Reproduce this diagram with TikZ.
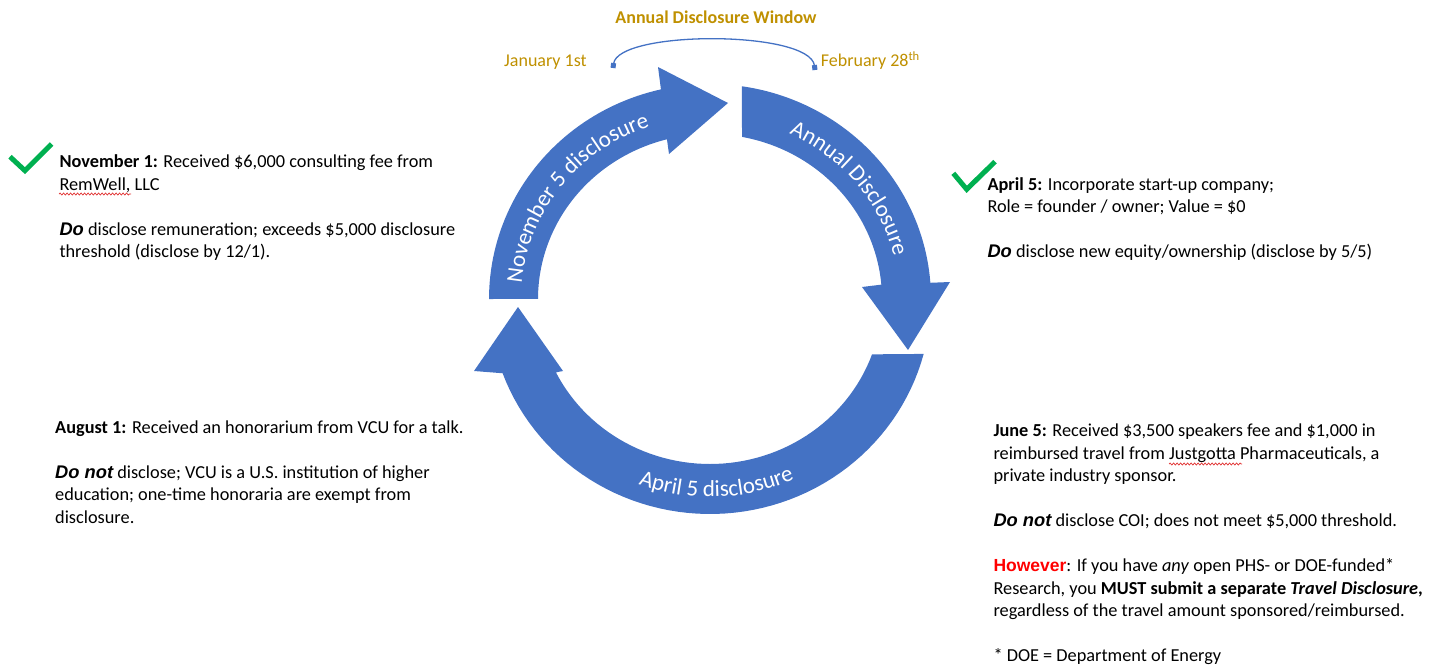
\documentclass[tikz,border=0pt]{standalone}
\usepackage{fontspec}
\setmainfont{Carlito}
\newfontfamily\arialfont{Liberation Sans}
\usetikzlibrary{decorations.text,decorations.pathmorphing,arrows.meta}

\definecolor{cycleblue}{HTML}{4472C4}
\definecolor{windowgold}{HTML}{BF9000}
\definecolor{checkgreen}{HTML}{00B050}
\definecolor{alertred}{HTML}{FF0000}
\definecolor{squiggle}{HTML}{E03030}

% emphasised verdicts ("Do", "Do not")
\newcommand{\verdict}{\arialfont\bfseries\itshape}
% white labels that run along the cycle arrows
\newcommand{\arrowlabel}{\color{white}\fontsize{23}{23}\selectfont}
% a block of left-aligned lines whose reference point is the first baseline
\newcommand{\textblock}[1]{\vtop{\baselineskip=22.5pt\lineskiplimit=-20pt #1}}
\newcommand{\tline}[1]{\hbox{\strut #1}}

\begin{document}
\begin{tikzpicture}[x=1pt,y=-1pt,
  body/.style={anchor=base west, inner sep=0pt, font=\fontsize{18.3}{22.5}\selectfont},
  goldtext/.style={text=windowgold, inner sep=0pt, font=\fontsize{18}{22}\selectfont},
  cyclearrow/.style={fill=cycleblue},
  checkstroke/.style={draw=checkgreen, line width=5pt, line join=miter},
  spellmark/.style={draw=squiggle, line width=0.7pt, decorate,
    decoration={snake, amplitude=1pt, segment length=3.5pt}}
]
\useasboundingbox (0,0) rectangle (1439,667);

% ---------- cycle of three curved arrows ----------
% November 5 disclosure (left, pointing up to the top)
\fill[cyclearrow]
  plot[domain=0:1, samples=50, variable=\s]
    ({710+221*cos(180+77.2*\s)},{299+215*sin(180+77.2*\s)})
  -- (658,67) -- (728,103) -- (669,154)
  -- plot[domain=0:1, samples=50, variable=\s]
    ({710+172*cos(255.5-75.5*\s)},{299+165*sin(255.5-75.5*\s)})
  -- cycle;

% Annual Disclosure (right, pointing down)
\fill[cyclearrow]
  plot[domain=0:1, samples=50, variable=\s]
    ({710+221*cos(278.3+77.4*\s)},{299+215*sin(278.3+77.4*\s)})
  -- (950,282) -- (908,350) -- (862,287)
  -- plot[domain=0:1, samples=50, variable=\s]
    ({710+172*cos(355-74.3*\s)},{299+165*sin(355-74.3*\s)})
  -- cycle;

% April 5 disclosure (bottom, pointing up on the left)
\fill[cyclearrow]
  plot[domain=0:1, samples=60, variable=\s]
    ({710+221*cos(14.8+145.1*\s)},{299+215*sin(14.8+145.1*\s)})
  -- (474,371) -- (518,307) -- (563,371)
  -- plot[domain=0:1, samples=60, variable=\s]
    ({710+172*cos(153.6-134.1*\s)},{299+165*sin(153.6-134.1*\s)})
  -- cycle;

% labels along the arrows
\path[decorate, decoration={text along path, text align=center,
    text={|\arrowlabel|November 5 disclosure}}]
  plot[domain=0:1, samples=80, variable=\s]
    ({710+189*cos(173+90*\s)},{299+182*sin(173+90*\s)});
\path[decorate, decoration={text along path, text align=center,
    text={|\arrowlabel|Annual Disclosure}}]
  plot[domain=0:1, samples=80, variable=\s]
    ({710+189*cos(276+90*\s)},{299+182*sin(276+90*\s)});
\path[decorate, decoration={text along path, text align=center,
    text={|\arrowlabel|April 5 disclosure}}]
  plot[domain=0:1, samples=80, variable=\s]
    ({710+204*cos(133-90*\s)},{299+198*sin(133-90*\s)});

% ---------- annual disclosure window ----------
\node[goldtext, font=\bfseries\fontsize{18}{22}\selectfont, anchor=base] (wintitle) at (716,23.3) {Annual Disclosure Window};
\node[goldtext, anchor=base west] (jan) at (504,66.7) {January 1st};
\node[goldtext, anchor=base west] (feb) at (820.7,66.7) {February 28\textsuperscript{th}};
\coordinate (winstart) at (613,68);
\coordinate (winend) at (815,70);
\draw[cycleblue, line width=1.3pt, {Square[length=5pt,width=5pt]}-{Square[length=5pt,width=5pt]}]
  (winstart) .. controls (618,30) and (810,30) .. (winend);

% ---------- check marks ----------
\coordinate (ckNa) at (10,156.7);
\coordinate (ckNb) at (25,170.7);
\coordinate (ckNc) at (51.7,144);
\draw[checkstroke] (ckNa) -- (ckNb) -- (ckNc);
\coordinate (ckAa) at (953.3,173.3);
\coordinate (ckAb) at (966.7,189.3);
\coordinate (ckAc) at (995,161.7);
\draw[checkstroke] (ckAa) -- (ckAb) -- (ckAc);

% ---------- event descriptions ----------
\node[body] (nov) at (59.3,167.5) {\textblock{%
  \tline{\textbf{November 1:} Received \$6,000 consulting fee from}%
  \tline{RemWell, LLC}%
  \tline{}%
  \tline{{\verdict Do} disclose remuneration; exceeds \$5,000 disclosure}%
  \tline{threshold (disclose by 12/1).}}};

\node[body] (apr) at (987.3,190) {\textblock{%
  \tline{\textbf{April 5:} Incorporate start-up company;}%
  \tline{Role = founder / owner; Value = \$0}%
  \tline{}%
  \tline{{\verdict Do} disclose new equity/ownership (disclose by 5/5)}}};

\node[body] (aug) at (55,433) {\textblock{%
  \tline{\textbf{August 1:} Received an honorarium from VCU for a talk.}%
  \tline{}%
  \tline{{\verdict Do not} disclose; VCU is a U.S. institution of higher}%
  \tline{education; one-time honoraria are exempt from}%
  \tline{disclosure.}}};

\node[body] (jun) at (993.3,436.7) {\textblock{%
  \tline{\textbf{June 5:} Received \$3,500 speakers fee and \$1,000 in}%
  \tline{reimbursed travel from Justgotta Pharmaceuticals, a}%
  \tline{private industry sponsor.}%
  \tline{}%
  \tline{{\verdict Do not} disclose COI; does not meet \$5,000 threshold.}%
  \tline{}%
  \tline{{\arialfont\bfseries\fontsize{17.5}{22.5}\selectfont\color{alertred}However}: If you have \textit{any} open PHS- or DOE-funded*}%
  \tline{Research, you \textbf{MUST submit a separate \textit{Travel Disclosure},}}%
  \tline{regardless of the travel amount sponsored/reimbursed.}%
  \tline{}%
  \tline{* DOE = Department of Energy}}};

% spelling marks under unknown words
\draw[spellmark] (59,194) -- (131,194);
\draw[spellmark] (1169,464) -- (1242,464);

\end{tikzpicture}
\end{document}
